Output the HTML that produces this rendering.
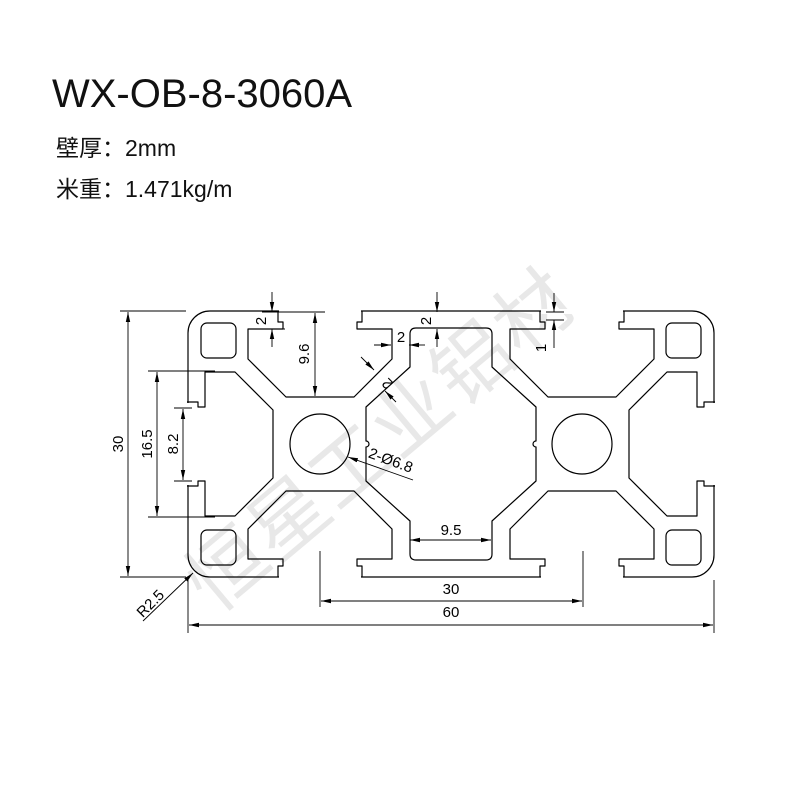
<!DOCTYPE html>
<html><head><meta charset="utf-8"><style>
html,body{margin:0;padding:0;background:#fff}
svg{display:block}
</style></head><body>
<svg width="800" height="800" viewBox="0 0 800 800" xmlns="http://www.w3.org/2000/svg">
<defs>
<marker id="ar" viewBox="0 0 10 6" refX="10" refY="3" markerWidth="10" markerHeight="6" orient="auto-start-reverse" markerUnits="userSpaceOnUse"><path d="M0,0.8 L10,3 L0,5.2 Z" fill="#000"/></marker>
<path id="slot" d="M -42 -133 L -42 -122 L -37 -122 L -37 -115 L -72 -115 L -72 -85 L -34 -47 L 34 -47 L 72 -85 L 72 -115 L 37 -115 L 37 -122 L 42 -122 L 42 -133"/>
</defs>
<text x="52" y="107" font-family="Liberation Sans, sans-serif" font-size="40" fill="#111">WX-OB-8-3060A</text>
<text x="56" y="156" font-family="Liberation Sans, 'Noto Sans CJK SC', sans-serif" font-size="23" fill="#111">壁厚：2mm</text>
<text x="56" y="197" font-family="Liberation Sans, 'Noto Sans CJK SC', sans-serif" font-size="23" fill="#111">米重：1.471kg/m</text>

<text x="0" y="0" transform="translate(215,615) rotate(-40)" font-family="'Noto Sans CJK SC', sans-serif" font-size="78" fill="#e8e8e8" letter-spacing="2">恒星工业铝材</text>

<g fill="none" stroke="#000" stroke-width="1.2">
<rect x="188" y="311" width="526" height="266" rx="22"/>
</g>
<g fill="#fff" stroke="none">
<rect x="279" y="309" width="82" height="5"/>
<rect x="279" y="574" width="82" height="5"/>
<rect x="185" y="403" width="6" height="82"/>
<rect x="541" y="309" width="82" height="5"/>
<rect x="541" y="574" width="82" height="5"/>
<rect x="711" y="403" width="6" height="82"/>
</g>
<g fill="none" stroke="#000" stroke-width="1.2" stroke-linejoin="round">
<g transform="translate(320,444)">
<use href="#slot"/>
<use href="#slot" transform="scale(1,-1)"/>
<use href="#slot" transform="rotate(-90)"/>
<circle cx="0" cy="0" r="30"/>
<rect x="-119" y="-121" width="35" height="35" rx="6"/>
<rect x="-119" y="86" width="35" height="35" rx="6"/>
<path d="M 90 -110 Q 90 -116 96 -116 L 166 -116 Q 172 -116 172 -110 L 172 -77 L 216 -37 L 216 -3 A 3 3 0 0 0 216 3 L 216 37 L 172 77 L 172 110 Q 172 116 166 116 L 96 116 Q 90 116 90 110 L 90 77 L 46 37 L 46 3 A 3 3 0 0 0 46 -3 L 46 -37 L 90 -77 Z"/>
</g>
<g transform="translate(582,444)">
<use href="#slot"/>
<use href="#slot" transform="scale(1,-1)"/>
<use href="#slot" transform="rotate(90)"/>
<circle cx="0" cy="0" r="30"/>
<rect x="84" y="-121" width="35" height="35" rx="6"/>
<rect x="84" y="86" width="35" height="35" rx="6"/>
</g>
</g>

<g stroke="#000" stroke-width="0.9" fill="none">
<line x1="188" y1="580" x2="188" y2="633"/><line x1="714" y1="580" x2="714" y2="633"/>
<line x1="189" y1="625" x2="713" y2="625" marker-start="url(#ar)" marker-end="url(#ar)"/>
<line x1="320" y1="551" x2="320" y2="607"/><line x1="583" y1="551" x2="583" y2="607"/>
<line x1="321" y1="601" x2="582" y2="601" marker-start="url(#ar)" marker-end="url(#ar)"/>
<line x1="410" y1="540" x2="491" y2="540" marker-start="url(#ar)" marker-end="url(#ar)"/>
<line x1="120" y1="311" x2="186" y2="311"/><line x1="120" y1="577" x2="186" y2="577"/>
<line x1="128" y1="312" x2="128" y2="576" marker-start="url(#ar)" marker-end="url(#ar)"/>
<line x1="148" y1="371" x2="215" y2="371"/><line x1="148" y1="517" x2="215" y2="517"/>
<line x1="157" y1="372" x2="157" y2="516" marker-start="url(#ar)" marker-end="url(#ar)"/>
<line x1="174" y1="408" x2="192" y2="408"/><line x1="174" y1="481" x2="192" y2="481"/>
<line x1="183" y1="409" x2="183" y2="480" marker-start="url(#ar)" marker-end="url(#ar)"/>
<line x1="193" y1="573" x2="143" y2="621" marker-start="url(#ar)"/>
<line x1="262" y1="312" x2="290" y2="312"/><line x1="262" y1="329" x2="285" y2="329"/>
<line x1="272" y1="292" x2="272" y2="312" marker-end="url(#ar)"/>
<line x1="272" y1="347" x2="272" y2="329" marker-end="url(#ar)"/>
<line x1="290" y1="312" x2="325" y2="312"/>
<line x1="315" y1="313" x2="315" y2="396" marker-start="url(#ar)" marker-end="url(#ar)"/>
<line x1="437" y1="292" x2="437" y2="312" marker-end="url(#ar)"/>
<line x1="437" y1="347" x2="437" y2="329" marker-end="url(#ar)"/>
<line x1="374" y1="345" x2="391" y2="345" marker-end="url(#ar)"/>
<line x1="425" y1="345" x2="409" y2="345" marker-end="url(#ar)"/>
<line x1="361" y1="357" x2="374" y2="370" marker-end="url(#ar)"/>
<line x1="396" y1="402" x2="385" y2="391" marker-end="url(#ar)"/>
<line x1="546" y1="312" x2="564" y2="312"/><line x1="546" y1="320" x2="564" y2="320"/>
<line x1="554" y1="293" x2="554" y2="312" marker-end="url(#ar)"/>
<line x1="554" y1="348" x2="554" y2="320" marker-end="url(#ar)"/>
<line x1="413" y1="480" x2="348" y2="457" marker-end="url(#ar)"/>
</g>

<g font-family="Liberation Sans, sans-serif" font-size="15" fill="#000" text-anchor="middle">
<text x="451" y="617">60</text>
<text x="451" y="594">30</text>
<text x="451" y="535">9.5</text>
<text transform="translate(123,444) rotate(-90)">30</text>
<text transform="translate(152,444) rotate(-90)">16.5</text>
<text transform="translate(178,444) rotate(-90)">8.2</text>
<text transform="translate(154,607) rotate(-45)">R2.5</text>
<text transform="translate(266,321) rotate(-90)">2</text>
<text transform="translate(309,354) rotate(-90)">9.6</text>
<text transform="translate(431,321) rotate(-90)">2</text>
<text x="401" y="342">2</text>
<text transform="translate(391,380) rotate(-135)">2</text>
<text transform="translate(546,348) rotate(-90)">1</text>
<text transform="translate(389,465) rotate(20)">2-Ø6.8</text>
</g>
</svg>
</body></html>
